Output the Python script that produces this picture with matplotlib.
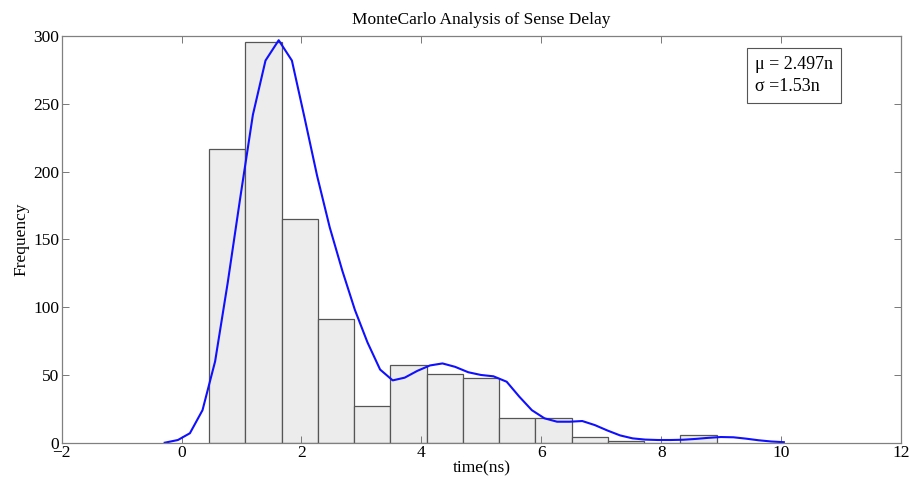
import numpy as np
import matplotlib.pyplot as plt

plt.rcParams['font.family'] = ['Liberation Serif', 'DejaVu Serif']

# histogram bins (ns) and counts
bin_edges = [0.46, 1.066, 1.67, 2.274, 2.878, 3.482, 4.086, 4.69, 5.294,
             5.898, 6.502, 7.106, 7.71, 8.314, 8.918]
counts = [217, 296, 165, 91, 27, 57, 51, 48, 18, 18, 4, 1, 0, 6]

# fitted density curve, scaled to counts
curve_x = [-0.28, -0.06, 0.14, 0.35, 0.56, 0.77, 0.98, 1.19, 1.40, 1.62,
           1.84, 2.05, 2.26, 2.47, 2.68, 2.89, 3.10, 3.31, 3.52, 3.72,
           3.93, 4.14, 4.35, 4.56, 4.78, 4.99, 5.20, 5.42, 5.63, 5.84,
           6.05, 6.26, 6.47, 6.68, 6.89, 7.10, 7.31, 7.52, 7.73, 7.94,
           8.15, 8.36, 8.57, 8.78, 8.99, 9.20, 9.41, 9.62, 9.83, 10.04]
curve_y = [0, 2, 7, 24, 60, 118, 181, 242, 282, 297,
           282, 240, 197, 159, 127, 98, 74, 54, 46, 48,
           53, 57, 58.5, 56, 52, 50, 49, 45, 34, 24,
           18, 15.5, 15.5, 16, 13, 9, 5.4, 3.2, 2.3, 2,
           2, 2.2, 2.8, 3.6, 4.2, 4, 3, 1.8, 0.9, 0.4]

mu_txt = 'μ = 2.497n'
sigma_txt = 'σ =1.53n'

fig = plt.figure(figsize=(9.1, 4.82), dpi=100)
ax = fig.add_axes([0.0676, 0.0815, 0.923, 0.8435])

edges = np.array(bin_edges)
ax.bar(edges[:-1], counts, width=np.diff(edges), align='edge',
       color='#ececec', edgecolor='#555555', linewidth=0.9)
ax.plot(curve_x, curve_y, color='#1010ff', lw=1.5)

ax.set_xlim(-2, 12)
ax.set_ylim(0, 300)
ax.set_xticks(np.arange(-2, 13, 2))
ax.set_yticks(np.arange(0, 301, 50))
ax.tick_params(direction='in', top=True, right=True, labelsize=12.5,
               length=5, width=0.7, color='#777777', pad=1.5)
for s in ax.spines.values():
    s.set_linewidth(0.9)
    s.set_color('#808080')

ax.set_title('MonteCarlo Analysis of Sense Delay', fontsize=12.5, pad=9)
ax.set_xlabel('time(ns)', fontsize=12.5, labelpad=0)
ax.set_ylabel('Frequency', fontsize=12.5, labelpad=3)

ax.text(0.826, 0.952, mu_txt + '\n' + sigma_txt, transform=ax.transAxes,
        fontsize=13, va='top', ha='left', linespacing=1.4,
        bbox=dict(boxstyle='square,pad=0.45', fc='white', ec='#555555', lw=0.8))

fig.savefig('out.png', dpi=100)
